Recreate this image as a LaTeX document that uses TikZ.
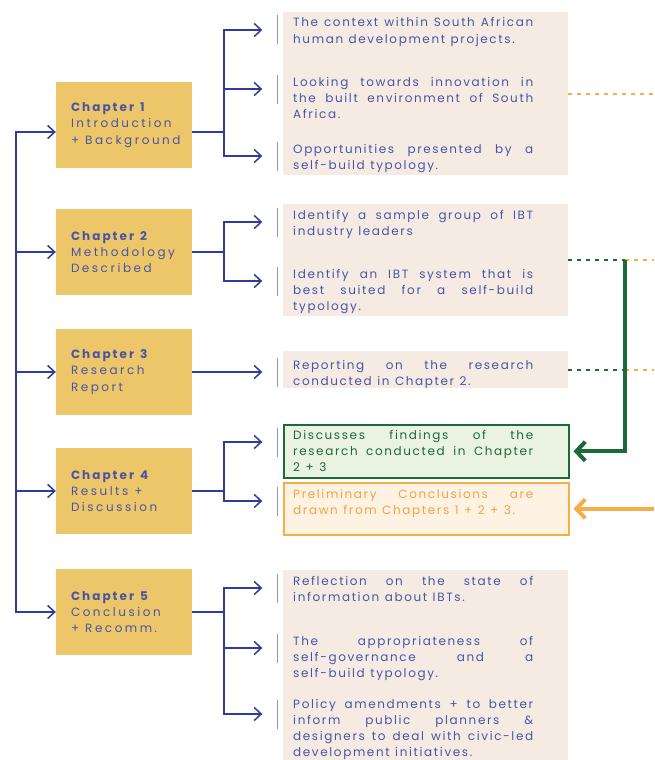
\documentclass[tikz,border=0pt]{standalone}
\usepackage{fontspec}
\setmainfont{Poppins}
\newfontfamily\chapfont[LetterSpace=21, BoldFeatures={LetterSpace=17}]{Poppins}
\newfontfamily\itemfont[LetterSpace=13.5]{Poppins}
\usetikzlibrary{positioning, arrows.meta}

\definecolor{chapfill}{HTML}{EEC66A}
\definecolor{linkblue}{HTML}{2F3C9C}
\definecolor{textblue}{HTML}{4855A6}
\definecolor{barblue}{HTML}{9095C8}
\definecolor{beige}{HTML}{F6EBE3}
\definecolor{darkgreen}{HTML}{1C6A3A}
\definecolor{greenfill}{HTML}{EAF2E2}
\definecolor{orange}{HTML}{F8AE48}
\definecolor{orangefill}{HTML}{FEF2E2}
\definecolor{orangetext}{HTML}{F5A145}

\hyphenpenalty=10000
\exhyphenpenalty=10000

\tikzset{
  chapbox/.style={fill=chapfill, minimum width=136pt, minimum height=86pt,
    text width=106pt, inner xsep=15pt, align=left, text=textblue,
    font=\chapfont\fontsize{12}{16.3}\selectfont,
    execute at begin node={\spaceskip=6pt plus 2pt\relax}},
  item/.style={anchor=base west, inner sep=0pt, text width=240pt,
    align=justify, text=textblue, font=\itemfont\fontsize{12}{16.3}\selectfont,
    execute at begin node={\spaceskip=5.5pt plus 8pt minus 1pt\relax}},
  panel/.style={fill=beige, minimum width=285pt, inner sep=0pt, anchor=north west},
  bar/.style={fill=barblue, minimum width=1pt, minimum height=29pt, inner sep=0pt},
  link/.style={draw=linkblue, line width=1.5pt, -{Straight Barb[length=7pt,width=13pt]}},
  greendash/.style={draw=darkgreen, line width=2pt, dash pattern=on 4pt off 5pt},
  orangedash/.style={draw=orange, line width=2pt, dash pattern=on 4pt off 5pt},
  bigarrow/.style={line width=4pt, shorten >=4pt, -{Straight Barb[length=9pt,width=19pt]}}
}

\begin{document}
\begin{tikzpicture}[x=1pt, y=-1pt]
    \useasboundingbox (0,0) rectangle (654,760);

    % Panels behind the items
    \foreach \n/\y/\h in {1/12/163, 2/204/112, 3/351/37, 5/570/190}
      \node[panel, minimum height=\h pt] (p\n) at (283,\y) {};
    \node[panel, fill=greenfill, draw=darkgreen, line width=1.5pt,
      minimum height=53pt] (g4) at (283,424) {};
    \node[panel, fill=orangefill, draw=orange, line width=1.5pt,
      minimum height=52pt] (o4) at (283,482) {};

    % Chapters
    \foreach \n/\y/\a/\b in {1/125/Introduction/+ Background,
        2/252/Methodology/Described, 3/372/Research/Report,
        4/491/Results +/Discussion, 5/612/Conclusion/+ Recomm.}
      \node[chapbox] (ch\n) at (124,\y)
        {\textbf{Chapter \n}\\\mbox{\a}\\\mbox{\b}};

    % Bars in front of the items
    \foreach \b/\y in {11/30, 12/89, 13/156, 21/222, 22/281, 31/372,
        41/442, 42/501, 51/588, 52/648, 53/714}
      \node[bar] (b\b) at (277,\y) {};

    % Items
    \node[item] (t11) at (293,27) {The context within South African\linebreak
      human development projects.};
    \node[item] (t12) at (293,86) {Looking towards innovation in\linebreak
      the built environment of South\linebreak Africa.};
    \node[item] (t13) at (293,153) {Opportunities presented by a\linebreak
      self-build typology.};
    \node[item] (t21) at (293,219) {Identify a sample group of IBT\linebreak
      industry leaders};
    \node[item] (t22) at (293,278) {Identify an IBT system that is\linebreak
      best suited for a self-build\linebreak typology.};
    \node[item] (t31) at (293,369) {Reporting on the research\linebreak
      conducted in Chapter 2.};
    \node[item, text=darkgreen] (t41) at (293,439) {Discusses findings of the\linebreak
      research conducted in Chapter\linebreak 2 + 3};
    \node[item, text=orangetext] (t42) at (293,498) {Preliminary Conclusions are\linebreak
      \mbox{drawn from Chapters 1 + 2 + 3.}};
    \node[item] (t51) at (293,585) {Reflection on the state of\linebreak
      information about IBTs.};
    \node[item] (t52) at (293,645) {The appropriateness of\linebreak
      self-governance and a\linebreak self-build typology.};
    \node[item] (t53) at (293,708) {Policy amendments + to better\linebreak
      inform public planners \&\linebreak designers to deal with civic-led\linebreak
      development initiatives.};

    % Spine on the left
    \coordinate (spine) at (16,0);
    \coordinate (in1) at ([yshift=-7pt]ch1.west);
    \draw[link, {Straight Barb[length=7pt,width=13pt]}-{Straight Barb[length=7pt,width=13pt]}]
      (in1) -| (spine |- ch5.west) -- (ch5.west);
    \foreach \n in {2,3,4}
      \draw[link] (spine |- ch\n.west) -- (ch\n.west);

    % Branches to the items
    \draw[link, -] ([yshift=-7pt]ch1.east) -- ++(32,0) coordinate (j1);
    \foreach \b in {11,12,13}
      \draw[link] (j1) |- ([xshift=-14pt]b\b.west);
    \draw[link, -] (ch2.east) -- ++(32,0) coordinate (j2);
    \foreach \b in {21,22}
      \draw[link] (j2) |- ([xshift=-14pt]b\b.west);
    \draw[link] (ch3.east) -- ([xshift=-14pt]b31.west);
    \draw[link, -] (ch4.east) -- ++(32,0) coordinate (j4);
    \foreach \b in {41,42}
      \draw[link] (j4) |- ([xshift=-14pt]b\b.west);
    \draw[link, -] (ch5.east) -- ++(32,0) coordinate (j5);
    \foreach \b in {51,52,53}
      \draw[link] (j5) |- ([xshift=-14pt]b\b.west);

    % Links on the right
    \coordinate (edge) at (654,0);
    \coordinate (gx) at (625,0);
    \draw[orangedash] (p1.east) -- (p1.east -| edge);
    \foreach \p in {p2,p3} {
      \draw[greendash] (\p.east) -- (\p.east -| gx);
      \draw[orangedash] (\p.east -| gx) -- (\p.east -| edge);
    }
    \draw[bigarrow, darkgreen] (p2.east -| gx) |- (g4.east);
    \draw[bigarrow, orange] (o4.east -| edge) -- (o4.east);

\end{tikzpicture}
\end{document}
